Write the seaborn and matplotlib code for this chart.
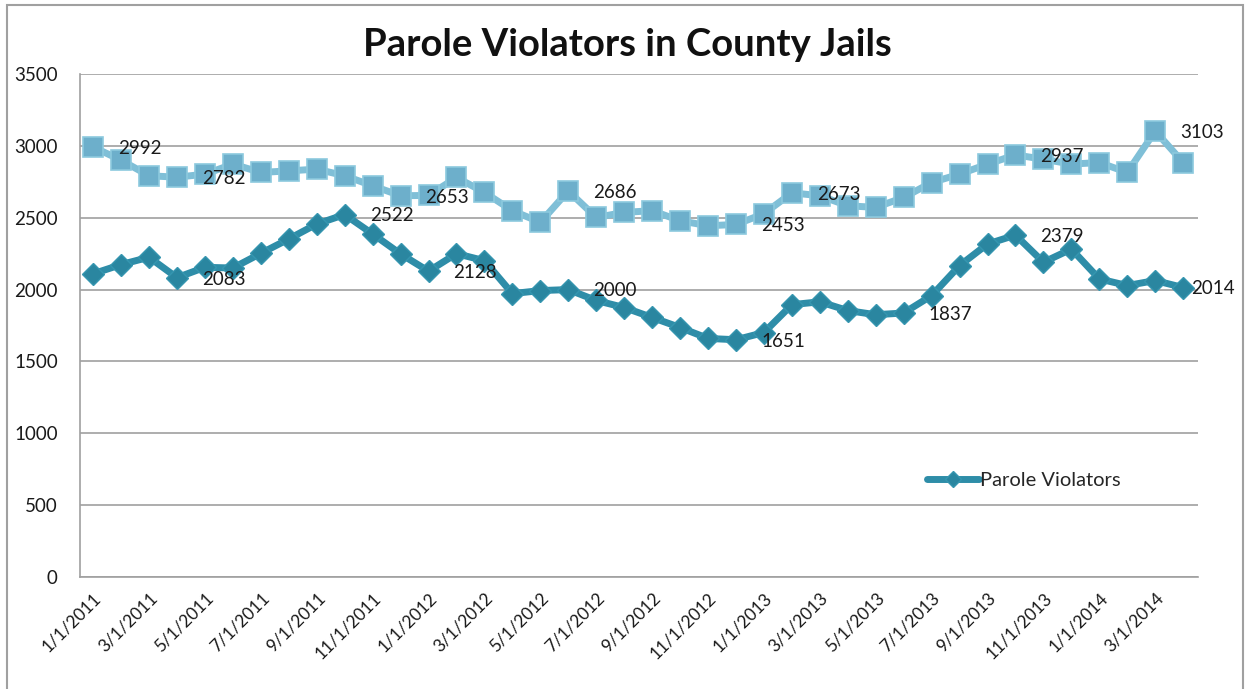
import pandas as pd
import matplotlib
matplotlib.use("Agg")
import matplotlib.pyplot as plt
import seaborn as sns
from matplotlib.patches import Rectangle

# monthly points, 1/1/2011 .. 4/1/2014
months = pd.date_range("2011-01-01", periods=40, freq="MS")
month_labels = [f"{d.month}/1/{d.year}" for d in months]

# light series (squares, no legend entry)
upper_values = [2992, 2900, 2792, 2782, 2803, 2873, 2815, 2826, 2838, 2792,
                2722, 2653, 2655, 2780, 2676, 2549, 2468, 2686, 2502, 2537,
                2549, 2479, 2444, 2453, 2528, 2673, 2653, 2583, 2572, 2641,
                2745, 2803, 2873, 2937, 2907, 2873, 2884, 2815, 3103, 2884]

# Parole Violators (diamonds)
lower_values = [2110, 2174, 2225, 2083, 2155, 2150, 2252, 2352, 2456, 2522,
                2387, 2248, 2128, 2250, 2201, 1972, 1993, 2000, 1924, 1875,
                1806, 1736, 1660, 1651, 1701, 1895, 1915, 1854, 1825, 1837,
                1958, 2167, 2317, 2379, 2190, 2282, 2074, 2028, 2063, 2014]

# points that carry a data label
upper_label_idx = [0, 3, 11, 17, 23, 25, 33, 38]
lower_label_idx = [3, 9, 12, 17, 23, 29, 33, 39]

df = pd.DataFrame({
    "idx": range(len(months)),
    "upper": upper_values,
    "lower": lower_values,
})

sns.set_theme(style="white")
plt.rcParams["font.family"] = ["Lato", "DejaVu Sans"]

fig = plt.figure(figsize=(12.47, 6.89), dpi=100)
ax = fig.add_axes([80 / 1247, 1 - 577 / 689, 1118 / 1247, 503 / 689])

upper_color = "#7FBFD7"
lower_color = "#2E8DA8"

sns.lineplot(data=df, x="idx", y="upper", ax=ax, color=upper_color,
             linewidth=5, marker="s", markersize=15,
             markerfacecolor="#6DAFCB", markeredgecolor="#8CC9DE",
             markeredgewidth=1.2, label="_nolegend_")
sns.lineplot(data=df, x="idx", y="lower", ax=ax, color=lower_color,
             linewidth=5, marker="D", markersize=11,
             markerfacecolor="#2A86A0", markeredgecolor="#3596B0",
             markeredgewidth=1, label="Parole Violators")

for i in upper_label_idx:
    ax.annotate(str(upper_values[i]), (i, upper_values[i]), xytext=(18, -1),
                textcoords="offset points", ha="left", va="center",
                fontsize=13.5, color="#1a1a1a")
for i in lower_label_idx:
    dx = 6 if i == len(months) - 1 else 18
    ax.annotate(str(lower_values[i]), (i, lower_values[i]), xytext=(dx, -1),
                textcoords="offset points", ha="left", va="center",
                fontsize=13.5, color="#1a1a1a")

ax.set_xlim(-0.47, 39.53)
ax.set_ylim(0, 3500)
ax.set_yticks(range(0, 3501, 500))
ax.set_xticks(df["idx"][::2])
ax.set_xticklabels(month_labels[::2], rotation=45, ha="right",
                   rotation_mode="anchor", fontsize=12.5, color="#1a1a1a")
ax.tick_params(axis="y", labelsize=13.5, colors="#1a1a1a", length=0, pad=16)
ax.tick_params(axis="x", length=0, pad=9)
ax.set_xlabel("")
ax.set_ylabel("")

ax.yaxis.grid(True, color="#A0A0A0", linewidth=1.2)
ax.set_axisbelow(True)
for side in ["top", "right"]:
    ax.spines[side].set_visible(False)
for side in ["left", "bottom"]:
    ax.spines[side].set_color("#A0A0A0")
    ax.spines[side].set_linewidth(1.2)

ax.legend(loc="center left", bbox_to_anchor=(0.745, 0.191), frameon=False,
          fontsize=14.5, handlelength=2.6, handletextpad=0.05,
          borderpad=0.2, markerscale=0.7)

fig.text(0.503, 1 - 45 / 689, "Parole Violators in County Jails",
         ha="center", va="center", fontsize=27.5, fontweight="bold",
         color="#111111")

fig.patches.append(Rectangle((7 / 1247, -0.02), 1236 / 1247, 1.02 - 5 / 689,
                             transform=fig.transFigure, fill=False,
                             edgecolor="#A0A0A0", linewidth=1.5))

fig.savefig("out.png", dpi=100)
